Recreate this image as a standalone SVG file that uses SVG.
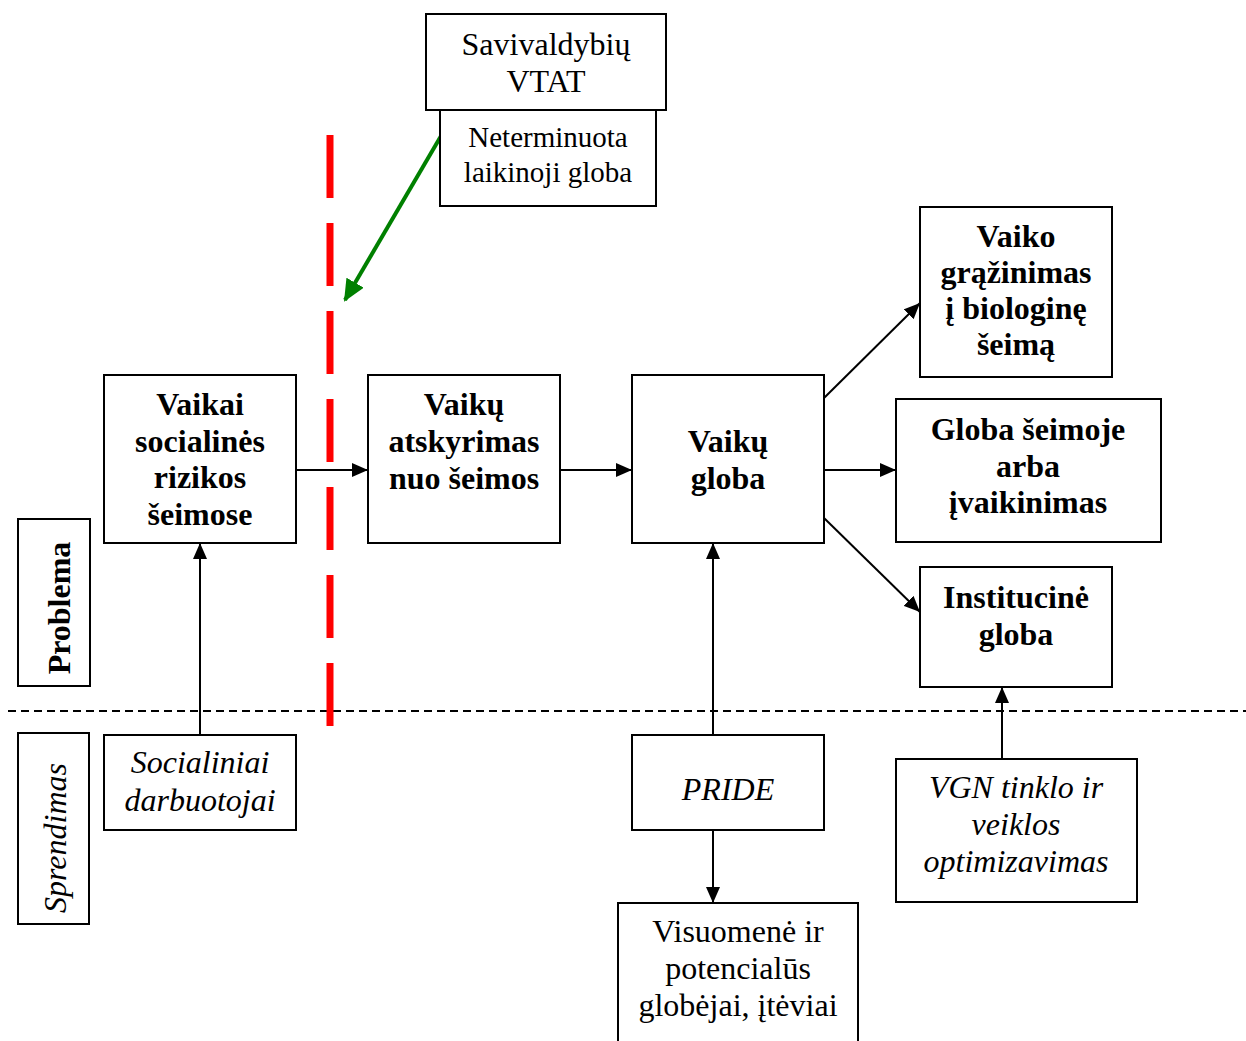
<svg xmlns="http://www.w3.org/2000/svg" width="1246" height="1041" viewBox="0 0 1246 1041" font-family="'Liberation Serif', 'Times New Roman', Tinos, 'DejaVu Serif', serif">
<style>
.box{fill:#fff;stroke:#000;stroke-width:2}
.t{font-family:'Liberation Serif','Times New Roman',Tinos,'DejaVu Serif',serif;font-size:32px;text-anchor:middle;fill:#000}
.b{font-weight:bold}
.i{font-style:italic}
.s{font-size:29px}
.c{stroke:#000;stroke-width:2;fill:none;marker-end:url(#ah)}
</style>
<defs>
<marker id="ah" markerUnits="userSpaceOnUse" markerWidth="18" markerHeight="14" refX="16" refY="7" orient="auto">
<path d="M0,0 L16,7 L0,14 Z" fill="#000"/>
</marker>
<marker id="gh" markerUnits="userSpaceOnUse" markerWidth="24" markerHeight="20" refX="20" refY="10" orient="auto">
<path d="M0,0 L22,10 L0,20 Z" fill="#008000"/>
</marker>
</defs>
<g id="separator">
<line x1="8" y1="711" x2="1246" y2="711" stroke="#000" stroke-width="2" stroke-dasharray="8,5"/>
<line x1="330" y1="135" x2="330" y2="726" stroke="#ff0000" stroke-width="7" stroke-dasharray="63,25"/>
</g>
<g id="connectors">
<line class="c" x1="296" y1="470" x2="368" y2="470"/>
<line class="c" x1="560" y1="470" x2="632" y2="470"/>
<line class="c" x1="824" y1="470" x2="896" y2="470"/>
<line class="c" x1="824" y1="398" x2="920" y2="303"/>
<line class="c" x1="824" y1="518" x2="920" y2="612"/>
<line class="c" x1="200" y1="735" x2="200" y2="543"/>
<line class="c" x1="713" y1="735" x2="713" y2="543"/>
<line class="c" x1="713" y1="830" x2="713" y2="903"/>
<line class="c" x1="1002" y1="759" x2="1002" y2="687"/>
<line x1="441" y1="136" x2="345" y2="300" stroke="#008000" stroke-width="4" marker-end="url(#gh)"/>
</g>
<g id="vtat">
<rect class="box" x="426" y="14" width="240" height="96"/>
<text class="t" x="546" y="55">Savivaldybių</text>
<text class="t" x="546" y="92">VTAT</text>
</g>
<g id="neterminuota">
<rect class="box" x="440" y="110" width="216" height="96"/>
<text class="t s" x="548" y="147">Neterminuota</text>
<text class="t s" x="548" y="182">laikinoji globa</text>
</g>
<g id="vaikai">
<rect class="box" x="104" y="375" width="192" height="168"/>
<text class="t b" x="200" y="415">Vaikai</text>
<text class="t b" x="200" y="452">socialinės</text>
<text class="t b" x="200" y="488">rizikos</text>
<text class="t b" x="200" y="525">šeimose</text>
</g>
<g id="atskyrimas">
<rect class="box" x="368" y="375" width="192" height="168"/>
<text class="t b" x="464" y="415">Vaikų</text>
<text class="t b" x="464" y="452">atskyrimas</text>
<text class="t b" x="464" y="489">nuo šeimos</text>
</g>
<g id="globa">
<rect class="box" x="632" y="375" width="192" height="168"/>
<text class="t b" x="728" y="452">Vaikų</text>
<text class="t b" x="728" y="489">globa</text>
</g>
<g id="grazinimas">
<rect class="box" x="920" y="207" width="192" height="170"/>
<text class="t b" x="1016" y="247">Vaiko</text>
<text class="t b" x="1016" y="283">grąžinimas</text>
<text class="t b" x="1016" y="319">į biologinę</text>
<text class="t b" x="1016" y="355">šeimą</text>
</g>
<g id="seimoje">
<rect class="box" x="896" y="399" width="265" height="143"/>
<text class="t b" x="1028" y="440">Globa šeimoje</text>
<text class="t b" x="1028" y="477">arba</text>
<text class="t b" x="1028" y="513">įvaikinimas</text>
</g>
<g id="institucine">
<rect class="box" x="920" y="567" width="192" height="120"/>
<text class="t b" x="1016" y="608">Institucinė</text>
<text class="t b" x="1016" y="645">globa</text>
</g>
<g id="problema">
<rect class="box" x="18" y="519" width="72" height="167"/>
<text class="t b" transform="translate(70,608) rotate(-90)">Problema</text>
</g>
<g id="sprendimas">
<rect class="box" x="18" y="733" width="71" height="191"/>
<text class="t i" transform="translate(66,838) rotate(-90)">Sprendimas</text>
</g>
<g id="darbuotojai">
<rect class="box" x="104" y="735" width="192" height="95"/>
<text class="t i" x="200" y="773">Socialiniai</text>
<text class="t i" x="200" y="811">darbuotojai</text>
</g>
<g id="pride">
<rect class="box" x="632" y="735" width="192" height="95"/>
<text class="t i" x="728" y="800">PRIDE</text>
</g>
<g id="vgn">
<rect class="box" x="896" y="759" width="241" height="143"/>
<text class="t i" x="1016" y="798">VGN tinklo ir</text>
<text class="t i" x="1016" y="835">veiklos</text>
<text class="t i" x="1016" y="872">optimizavimas</text>
</g>
<g id="visuomene">
<rect class="box" x="618" y="903" width="240" height="150"/>
<text class="t" x="738" y="942">Visuomenė ir</text>
<text class="t" x="738" y="979">potencialūs</text>
<text class="t" x="738" y="1016">globėjai, įtėviai</text>
</g>
</svg>
